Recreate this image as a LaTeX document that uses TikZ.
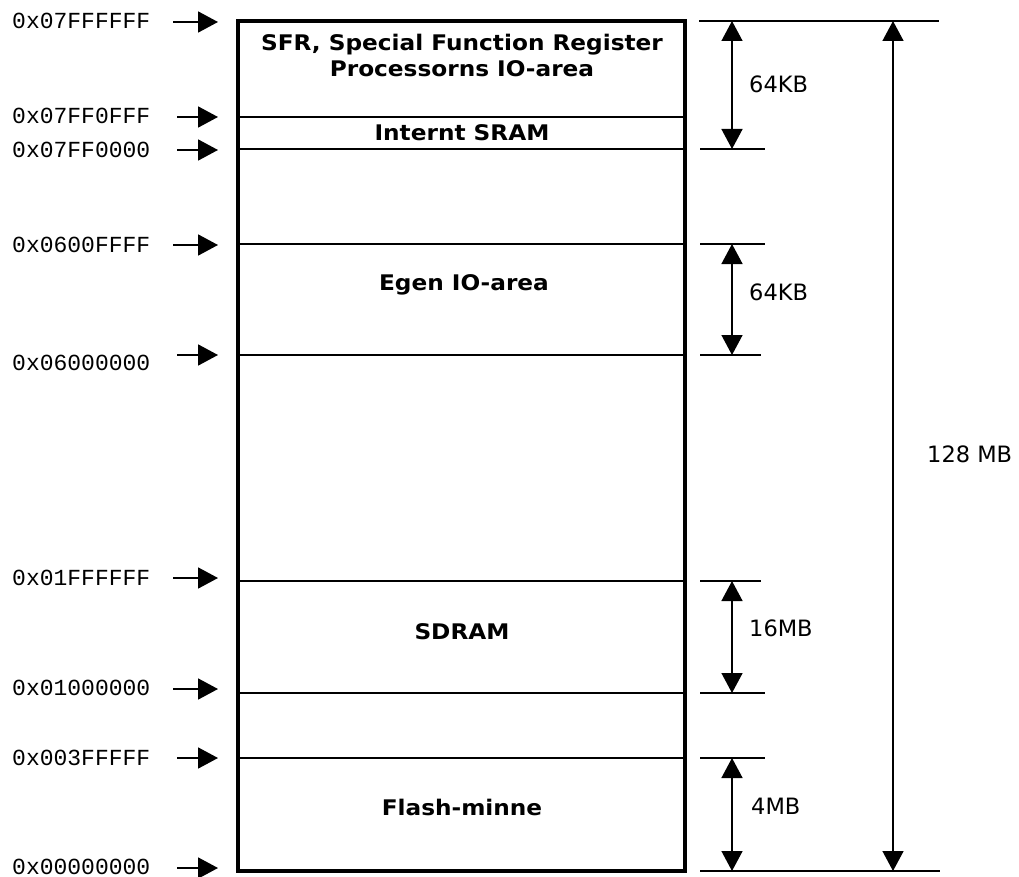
\documentclass[tikz,border=0pt]{standalone}
\usepackage{fontspec}
\usetikzlibrary{arrows.meta}
\newfontfamily\monof{Liberation Mono}
\newfontfamily\sansf{DejaVu Sans}
\newfontfamily\boldf[FakeStretch=1.08]{DejaVu Sans}
\begin{document}
\begin{tikzpicture}[x=1pt,y=-1pt,
  boxlbl/.style={font=\boldf\bfseries\fontsize{21.5}{26}\selectfont, anchor=base, inner sep=0pt},
  addr/.style={font=\monof\fontsize{23}{27}\selectfont, anchor=base west, inner sep=0pt},
  sizelbl/.style={font=\sansf\fontsize{22.5}{27}\selectfont, anchor=base west, inner sep=0pt},
  ptr/.style={line width=1.8pt, -{Triangle[length=20pt,width=21pt]}},
  dimarrow/.style={line width=1.5pt, {Triangle[length=20pt,width=21pt]}-{Triangle[length=20pt,width=21pt]}},
  divider/.style={line width=1.5pt},
  extline/.style={line width=1.5pt}]

\useasboundingbox (0,0) rectangle (1019,877);

% region dividers
\foreach \yy in {117,149,244,355,581,693,758}
  \draw[divider] (238,\yy) -- (685,\yy);

% memory box
\draw[line width=3.5pt] (238,21) rectangle (685,871);

% region labels
\node[boxlbl] (sfr1) at (462,50.5) {SFR, Special Function Register};
\node[boxlbl] (sfr2) at (462,76.5) {Processorns IO-area};
\node[boxlbl] (sram) at (462,140.5) {Internt SRAM};
\node[boxlbl] (egen) at (464,290.5) {Egen IO-area};
\node[boxlbl] (sdram) at (462,639.5) {SDRAM};
\node[boxlbl] (flash) at (462,815.5) {Flash-minne};

% address labels
\node[addr] (a1) at (12,29) {0x07FFFFFF};
\node[addr] (a2) at (12,124) {0x07FF0FFF};
\node[addr] (a3) at (12,158) {0x07FF0000};
\node[addr] (a4) at (12,252) {0x0600FFFF};
\node[addr] (a5) at (12,370) {0x06000000};
\node[addr] (a6) at (12,585) {0x01FFFFFF};
\node[addr] (a7) at (12,695) {0x01000000};
\node[addr] (a8) at (12,765) {0x003FFFFF};
\node[addr] (a9) at (12,874) {0x00000000};

% address pointers
\coordinate (p1s) at (173,22);  \coordinate (p1e) at (218,22);
\coordinate (p2s) at (177,117); \coordinate (p2e) at (218,117);
\coordinate (p3s) at (177,150); \coordinate (p3e) at (218,150);
\coordinate (p4s) at (173,245); \coordinate (p4e) at (218,245);
\coordinate (p5s) at (177,355); \coordinate (p5e) at (218,355);
\coordinate (p6s) at (173,578); \coordinate (p6e) at (218,578);
\coordinate (p7s) at (173,689); \coordinate (p7e) at (218,689);
\coordinate (p8s) at (177,758); \coordinate (p8e) at (218,758);
\coordinate (p9s) at (177,868); \coordinate (p9e) at (218,868);
\foreach \i in {1,...,9}
  \draw[ptr] (p\i s) -- (p\i e);

% extension lines on the right
\coordinate (e1a) at (699,21);  \coordinate (e1b) at (939,21);
\coordinate (e2a) at (700,149); \coordinate (e2b) at (765,149);
\coordinate (e3a) at (700,244); \coordinate (e3b) at (765,244);
\coordinate (e4a) at (700,355); \coordinate (e4b) at (761,355);
\coordinate (e5a) at (700,581); \coordinate (e5b) at (761,581);
\coordinate (e6a) at (700,693); \coordinate (e6b) at (765,693);
\coordinate (e7a) at (700,758); \coordinate (e7b) at (765,758);
\coordinate (e8a) at (700,871); \coordinate (e8b) at (940,871);
\foreach \i in {1,...,8}
  \draw[extline] (e\i a) -- (e\i b);

% dimension arrows
\coordinate (d1t) at (732,21);  \coordinate (d1b) at (732,149);
\coordinate (d2t) at (732,244); \coordinate (d2b) at (732,355);
\coordinate (d3t) at (732,581); \coordinate (d3b) at (732,693);
\coordinate (d4t) at (732,758); \coordinate (d4b) at (732,871);
\coordinate (d5t) at (893,21);  \coordinate (d5b) at (893,871);
\foreach \i in {1,...,5}
  \draw[dimarrow] (d\i t) -- (d\i b);

% size labels
\node[sizelbl] (s1) at (749,93) {64KB};
\node[sizelbl] (s2) at (749,300) {64KB};
\node[sizelbl] (s3) at (749,636) {16MB};
\node[sizelbl] (s4) at (751,814) {4MB};
\node[sizelbl] (s5) at (927,462) {128 MB};
\end{tikzpicture}
\end{document}
